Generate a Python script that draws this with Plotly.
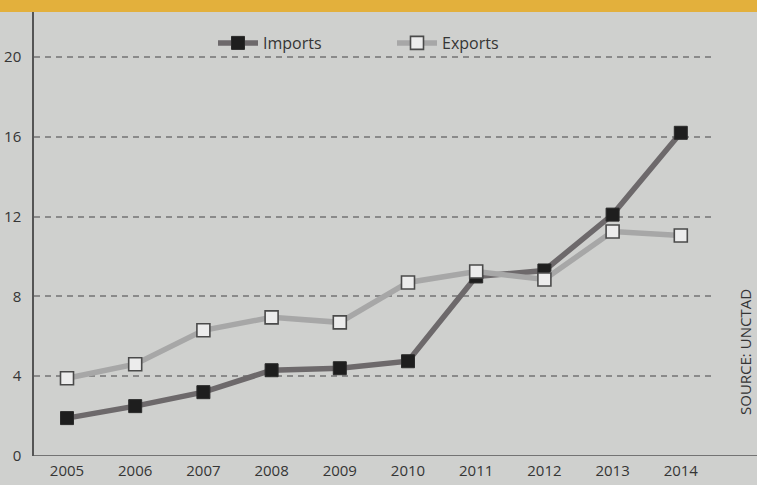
import plotly.graph_objects as go

# Annual trade values, 2005-2014
years = [2005, 2006, 2007, 2008, 2009, 2010, 2011, 2012, 2013, 2014]
imports = [1.9, 2.5, 3.2, 4.3, 4.4, 4.75, 9.0, 9.3, 12.1, 16.2]
exports = [3.9, 4.6, 6.3, 6.95, 6.7, 8.7, 9.25, 8.85, 11.25, 11.05]
y_ticks = [0, 4, 8, 12, 16, 20]

W, H = 757, 485
L, R, T, B = 34, 42, 12, 29
plot_w = W - L - R
plot_h = H - T - B

FONT = "Open Sans"
TXT = "#353535"
BG = "#cfd0ce"

fig = go.Figure()

fig.add_trace(go.Scatter(
    x=years, y=imports, name="Imports", mode="lines+markers",
    line=dict(color="#6d696b", width=5.5),
    marker=dict(symbol="square", size=13, color="#1e1e1e",
                line=dict(color="#2a2a2a", width=1)),
))
fig.add_trace(go.Scatter(
    x=years, y=exports, name="Exports", mode="lines+markers",
    line=dict(color="#a7a7a7", width=5.5),
    marker=dict(symbol="square", size=13, color="#ececec",
                line=dict(color="#4a4a4a", width=1.6)),
))

# gold header band across the top
fig.add_shape(type="rect", xref="paper", yref="paper",
              x0=-L / plot_w, x1=1 + R / plot_w, y0=1, y1=1 + T / plot_h + 0.01,
              fillcolor="#e3b03c", line=dict(width=0), layer="above")
# x axis line running to the right edge
fig.add_shape(type="line", xref="paper", yref="y",
              x0=0, x1=1 + R / plot_w, y0=0, y1=0,
              line=dict(color="#555555", width=1.5))

fig.add_annotation(text="SOURCE: UNCTAD", textangle=-90, showarrow=False,
                   xref="paper", yref="paper",
                   x=1 + (745 - (L + plot_w)) / plot_w, y=(H - B - 352) / plot_h,
                   xanchor="center", yanchor="middle",
                   font=dict(family=FONT, size=15, color=TXT))

fig.update_layout(
    width=W, height=H,
    margin=dict(l=L, r=R, t=T, b=B, pad=0, autoexpand=False),
    paper_bgcolor=BG, plot_bgcolor=BG,
    showlegend=True,
    legend=dict(orientation="h", x=(213 - L) / plot_w, y=(H - B - 26) / plot_h,
                xanchor="left", yanchor="top", bgcolor="rgba(0,0,0,0)",
                font=dict(family=FONT, size=16, color=TXT),
                entrywidth=124, itemwidth=40),
    xaxis=dict(range=[2005 - 33 / 68.2, 2005 + (plot_w - 33) / 68.2],
               tickvals=years, ticktext=[str(y) for y in years],
               showgrid=False, zeroline=False, showline=False,
               ticks="", ticklabelstandoff=4, automargin=False,
               tickfont=dict(family=FONT, size=15, color=TXT)),
    yaxis=dict(range=[0, plot_h / 19.95], tickvals=y_ticks,
               showgrid=True, gridcolor="#8a8a8a", gridwidth=1.8,
               griddash="6px,5px", zeroline=False,
               showline=True, linecolor="#555555", linewidth=1.5,
               ticks="", ticklabelstandoff=8, automargin=False,
               tickfont=dict(family=FONT, size=15, color=TXT)),
)

fig.write_html("out.html")
